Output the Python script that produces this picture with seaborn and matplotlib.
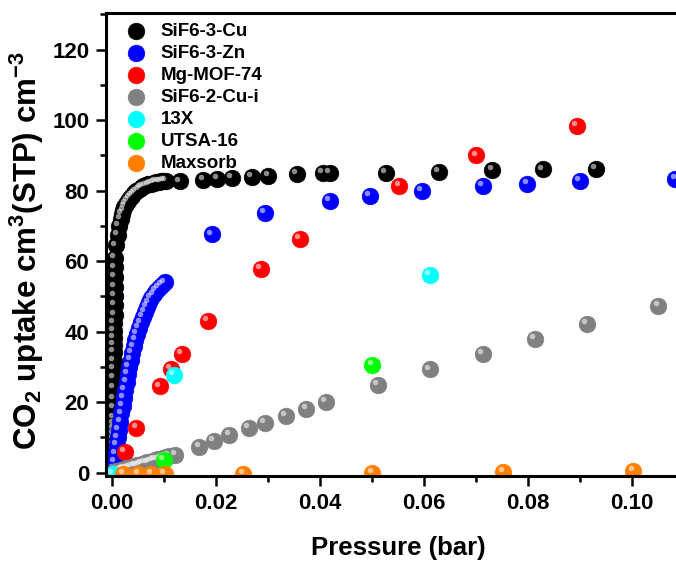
import matplotlib
matplotlib.use("Agg")
import matplotlib.pyplot as plt
import matplotlib.transforms as mtransforms
from matplotlib.ticker import MultipleLocator, FormatStrFormatter
import pandas as pd
import seaborn as sns

# SiF6-3-Cu
cu3_x = [0.0003, 0.0004, 0.0003, 0.0004, 0.0003, 0.0004, 0.0003, 0.0004, 0.0003, 0.0004, 0.0003,
         0.0004, 0.0004, 0.0003, 0.0004, 0.0003, 0.0003, 0.0003, 0.0004, 0.0004, 0.0004, 0.0004,
         0.0005, 0.0005, 0.0005, 0.0005, 0.0006, 0.0006, 0.0006,
         0.0008, 0.0011, 0.0014, 0.0017, 0.0019, 0.0022, 0.0024, 0.0027, 0.0030, 0.0034, 0.0038,
         0.0042, 0.0046, 0.0051, 0.0056, 0.0060, 0.0065, 0.0070, 0.0075, 0.0080, 0.0085, 0.0090,
         0.0094, 0.0099, 0.0104,
         0.0131, 0.0176, 0.0203, 0.0230, 0.0269, 0.0301, 0.0355, 0.0406, 0.0419, 0.0527,
         0.0629, 0.0732, 0.0829, 0.0931]
cu3_y = [0.5, 2.0, 3.5, 5.0, 6.5, 8.0, 9.5, 11.0, 12.5, 14.0, 15.5,
         18.5, 21.0, 24.0, 26.8, 29.5, 31.8, 34.2, 36.3, 38.3, 40.2, 42.5,
         44.8, 47.5, 50.2, 52.8, 55.5, 58.2, 61.0,
         64.5, 67.5, 70.0, 72.0, 73.3, 74.4, 75.4, 76.3, 77.1, 77.9, 78.6,
         79.2, 79.8, 80.3, 80.8, 81.2, 81.5, 81.8, 82.0, 82.2, 82.4, 82.5,
         82.6, 82.7, 82.8,
         82.6, 83.0, 83.3, 83.7, 83.9, 84.2, 84.7, 85.0, 85.0, 85.1,
         85.4, 85.8, 86.0, 86.1]

# SiF6-3-Zn
zn3_x = [0.0004, 0.0006, 0.0008, 0.0010, 0.0012, 0.0014, 0.0016, 0.0018, 0.0021, 0.0023,
         0.0025, 0.0028, 0.0030, 0.0033, 0.0036, 0.0039, 0.0042, 0.0045, 0.0048, 0.0052,
         0.0055, 0.0059, 0.0063, 0.0067, 0.0071, 0.0075, 0.0080, 0.0085, 0.0090, 0.0096, 0.0102,
         0.0192, 0.0294, 0.0419, 0.0496, 0.0596, 0.0714, 0.0799, 0.0900, 0.1084]
zn3_y = [1.0, 3.0, 5.5, 7.8, 10.0, 12.2, 14.5, 16.8, 19.0, 21.2,
         23.5, 25.8, 28.0, 30.0, 32.0, 34.0, 35.8, 37.6, 39.4, 41.0,
         42.6, 44.2, 45.6, 47.0, 48.3, 49.5, 50.6, 51.6, 52.5, 53.3, 54.0,
         67.6, 73.6, 77.0, 78.6, 80.0, 81.4, 82.0, 82.7, 83.3]

# Mg-MOF-74
mof_x = [0.0025, 0.0047, 0.0092, 0.0113, 0.0135, 0.0185, 0.0287, 0.0362, 0.0553, 0.0701, 0.0895]
mof_y = [6.0, 12.8, 24.5, 29.5, 33.8, 43.0, 57.7, 66.3, 81.4, 90.0, 98.3]

# SiF6-2-Cu-i
cu2_x = [0.0003, 0.0008, 0.0013, 0.0018, 0.0023, 0.0028, 0.0033, 0.0038, 0.0043, 0.0048,
         0.0053, 0.0058, 0.0063, 0.0068, 0.0073, 0.0078, 0.0083, 0.0088, 0.0093, 0.0098,
         0.0103, 0.0110, 0.0122, 0.0168, 0.0196, 0.0226, 0.0264, 0.0294, 0.0335, 0.0374,
         0.0411, 0.0512, 0.0612, 0.0713, 0.0813, 0.0914, 0.1051]
cu2_y = [0.2, 0.4, 0.6, 0.8, 1.0, 1.2, 1.4, 1.6, 1.9, 2.1,
         2.3, 2.5, 2.7, 2.9, 3.1, 3.4, 3.6, 3.8, 4.0, 4.2,
         4.4, 4.8, 5.0, 7.4, 9.0, 10.7, 12.6, 14.2, 16.2, 18.2,
         20.1, 24.8, 29.3, 33.7, 38.0, 42.2, 47.2]

# 13X
x13_x = [0.0002, 0.0119, 0.0612]
x13_y = [-0.3, 27.8, 56.0]

# UTSA-16
utsa_x = [0.0100, 0.0501]
utsa_y = [3.6, 30.5]

# Maxsorb
maxs_x = [0.0022, 0.0051, 0.0076, 0.0102, 0.0253, 0.0501, 0.0753, 0.1003]
maxs_y = [-0.3, -0.3, -0.3, -0.3, -0.3, -0.1, 0.2, 0.4]

series = [
    ("SiF6-3-Cu", cu3_x, cu3_y, "#000000"),
    ("SiF6-3-Zn", zn3_x, zn3_y, "#0000FF"),
    ("Mg-MOF-74", mof_x, mof_y, "#FF0000"),
    ("SiF6-2-Cu-i", cu2_x, cu2_y, "#808080"),
    ("13X", x13_x, x13_y, "#00FFFF"),
    ("UTSA-16", utsa_x, utsa_y, "#00FF00"),
    ("Maxsorb", maxs_x, maxs_y, "#FF8000"),
]

sns.set_theme(style="ticks", rc={"axes.edgecolor": "black", "text.color": "black",
                                 "axes.labelcolor": "black", "xtick.color": "black",
                                 "ytick.color": "black"})
plt.rcParams["font.family"] = ["Liberation Sans", "DejaVu Sans"]
plt.rcParams["font.weight"] = "bold"
plt.rcParams["mathtext.default"] = "regular"

fig = plt.figure(figsize=(6.76, 5.61), dpi=100)
ax = fig.add_axes([106 / 676, 85 / 561, 584 / 676, 462.7 / 561])
ax.set_xlim(-0.00115, 0.1112)
ax.set_ylim(-0.94, 130.3)

shine = mtransforms.offset_copy(ax.transData, fig=fig, x=-2.0, y=2.0, units="points")

for name, xs, ys, col in series:
    df = pd.DataFrame({"Pressure": xs, "Uptake": ys})
    sns.scatterplot(data=df, x="Pressure", y="Uptake", color=col, s=145,
                    edgecolor=col, linewidth=0.4, label=name, ax=ax)
    ax.scatter(df["Pressure"], df["Uptake"], s=16, color="white", alpha=0.55,
               linewidths=0, transform=shine)

for side in ["left", "bottom", "top"]:
    ax.spines[side].set_linewidth(2.2)
ax.spines["right"].set_visible(False)

ax.xaxis.set_major_locator(MultipleLocator(0.02))
ax.xaxis.set_minor_locator(MultipleLocator(0.01))
ax.xaxis.set_major_formatter(FormatStrFormatter("%.2f"))
ax.yaxis.set_major_locator(MultipleLocator(20))
ax.yaxis.set_minor_locator(MultipleLocator(10))
ax.tick_params(which="major", length=7, width=1.8, labelsize=16, pad=5, direction="out")
ax.tick_params(which="minor", length=4, width=1.8, direction="out")
ax.tick_params(top=False, right=False, which="both")
for lab in ax.get_xticklabels() + ax.get_yticklabels():
    lab.set_fontweight("bold")

ax.set_xlabel("Pressure (bar)", fontsize=18.5, fontweight="bold")
ax.set_ylabel(r"CO$_2$ uptake cm$^3$(STP) cm$^{-3}$", fontsize=22.5, fontweight="bold")
ax.xaxis.set_label_coords(0.5, -0.13)
ax.yaxis.set_label_coords(-0.103, 0.488)

leg = ax.legend(loc="upper left", frameon=False, prop={"weight": "bold", "size": 13.5},
                handletextpad=0.3, labelspacing=0.26, borderaxespad=0.0, borderpad=0.25,
                bbox_to_anchor=(0.012, 0.99))

fig.savefig("out.png", dpi=100)
